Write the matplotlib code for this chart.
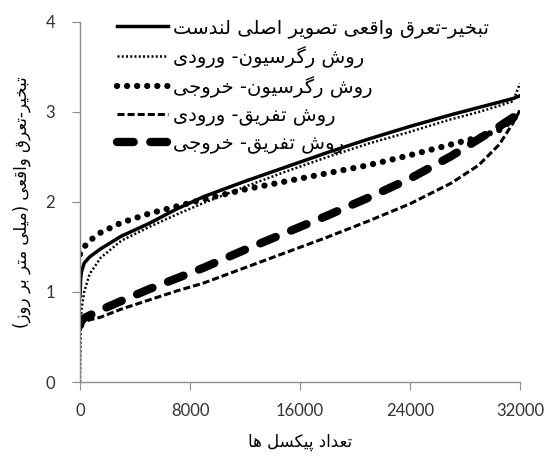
import numpy as np
import matplotlib
matplotlib.use('Agg')
import matplotlib.pyplot as plt

# pixel count (sorted) and ET values (mm/day) for each series
pixels = [0, 50, 100, 300, 700, 1500, 3000, 5000, 7000, 9000, 12000, 15000,
          18000, 21000, 24000, 27000, 29000, 30500, 31500, 32000]
et_landsat = [0.95, 1.15, 1.22, 1.32, 1.39, 1.48, 1.62, 1.76, 1.92, 2.06, 2.23, 2.39,
              2.55, 2.70, 2.84, 2.97, 3.05, 3.11, 3.15, 3.18]
reg_input = [0.0, 0.6, 0.8, 1.0, 1.2, 1.38, 1.57, 1.72, 1.86, 1.99, 2.17, 2.34,
             2.5, 2.65, 2.78, 2.92, 3.0, 3.07, 3.12, 3.32]
reg_output = [1.42, 1.44, 1.45, 1.5, 1.57, 1.66, 1.77, 1.87, 1.95, 2.03, 2.14, 2.23,
              2.32, 2.41, 2.52, 2.64, 2.72, 2.8, 2.92, 3.0]
sub_input = [0.62, 0.64, 0.65, 0.67, 0.69, 0.72, 0.81, 0.91, 1.01, 1.10, 1.27, 1.44,
             1.61, 1.79, 1.98, 2.21, 2.41, 2.64, 2.88, 3.02]
sub_output = [0.63, 0.66, 0.68, 0.71, 0.74, 0.8, 0.9, 1.03, 1.15, 1.27, 1.47, 1.66,
              1.85, 2.05, 2.26, 2.51, 2.7, 2.84, 2.94, 3.0]

labels = ['تبخیر-تعرق واقعی تصویر اصلی لندست',
          'روش رگرسیون- ورودی',
          'روش رگرسیون- خروجی',
          'روش تفریق- ورودی',
          'روش تفریق- خروجی']
xlabel = 'تعداد پیکسل ها'
ylabel = 'تبخیر-تعرق واقعی (میلی متر بر روز)'
xticks = [0, 8000, 16000, 24000, 32000]
yticks = [0, 1, 2, 3, 4]

# matplotlib has no arabic shaping, so pick presentation forms by hand
# (isolated, final, initial, medial)
FORMS = {
    'ا': ('\uFE8D', '\uFE8E', None, None),
    'ب': ('\uFE8F', '\uFE90', '\uFE91', '\uFE92'),
    'ت': ('\uFE95', '\uFE96', '\uFE97', '\uFE98'),
    'ج': ('\uFE9D', '\uFE9E', '\uFE9F', '\uFEA0'),
    'خ': ('\uFEA5', '\uFEA6', '\uFEA7', '\uFEA8'),
    'د': ('\uFEA9', '\uFEAA', None, None),
    'ر': ('\uFEAD', '\uFEAE', None, None),
    'ز': ('\uFEAF', '\uFEB0', None, None),
    'س': ('\uFEB1', '\uFEB2', '\uFEB3', '\uFEB4'),
    'ش': ('\uFEB5', '\uFEB6', '\uFEB7', '\uFEB8'),
    'ص': ('\uFEB9', '\uFEBA', '\uFEBB', '\uFEBC'),
    'ع': ('\uFEC9', '\uFECA', '\uFECB', '\uFECC'),
    'ف': ('\uFED1', '\uFED2', '\uFED3', '\uFED4'),
    'ق': ('\uFED5', '\uFED6', '\uFED7', '\uFED8'),
    'ل': ('\uFEDD', '\uFEDE', '\uFEDF', '\uFEE0'),
    'م': ('\uFEE1', '\uFEE2', '\uFEE3', '\uFEE4'),
    'ن': ('\uFEE5', '\uFEE6', '\uFEE7', '\uFEE8'),
    'ه': ('\uFEE9', '\uFEEA', '\uFEEB', '\uFEEC'),
    'و': ('\uFEED', '\uFEEE', None, None),
    'پ': ('\uFB56', '\uFB57', '\uFB58', '\uFB59'),
    'ک': ('\uFB8E', '\uFB8F', '\uFB90', '\uFB91'),
    'گ': ('\uFB92', '\uFB93', '\uFB94', '\uFB95'),
    'ی': ('\uFBFC', '\uFBFD', '\uFBFE', '\uFBFF'),
}


def shape(s):
    out = []
    for i, ch in enumerate(s):
        if ch not in FORMS:
            out.append(ch)
            continue
        iso, fin, ini, med = FORMS[ch]
        prev = s[i - 1] if i > 0 else ''
        nxt = s[i + 1] if i < len(s) - 1 else ''
        jp = prev in FORMS and FORMS[prev][2] is not None
        jn = ini is not None and nxt in FORMS
        if jp and jn:
            out.append(med)
        elif jp:
            out.append(fin)
        elif jn:
            out.append(ini)
        else:
            out.append(iso)
    vis = ''.join(out)[::-1]
    return vis.translate(str.maketrans('()', ')('))


fig = plt.figure(figsize=(5.45, 4.61), dpi=100)
ax = fig.add_axes([80 / 545, 79 / 461, 440 / 545, 360 / 461])

ax.plot(pixels, et_landsat, color='black', lw=2.5, label=shape(labels[0]))
ax.plot(pixels, reg_input, color='black', lw=1.8, dashes=(0.8, 0.9),
        label=shape(labels[1]))
ax.plot(pixels, reg_output, color='black', lw=4.5, dashes=(0.01, 1.6),
        dash_capstyle='round', label=shape(labels[2]))
ax.plot(pixels, sub_input, color='black', lw=2.2, dashes=(2.3, 1.0),
        label=shape(labels[3]))
ax.plot(pixels, sub_output, color='black', lw=6, dashes=(2.0, 2.0),
        dash_capstyle='round', label=shape(labels[4]))

ax.set_xlim(0, 32000)
ax.set_ylim(0, 4)
ax.set_xticks(xticks)
ax.set_yticks(yticks)
for s in ['top', 'right']:
    ax.spines[s].set_visible(False)
for s in ['left', 'bottom']:
    ax.spines[s].set_color('#8c8c8c')
    ax.spines[s].set_linewidth(1.0)
ax.tick_params(axis='x', length=6, color='#8c8c8c', pad=9)
ax.tick_params(axis='y', length=6, color='#8c8c8c', pad=12)
for t in ax.get_xticklabels() + ax.get_yticklabels():
    t.set_fontfamily('Lato')
    t.set_fontsize(12)
    t.set_color('#333333')

ax.set_xlabel(shape(xlabel), fontsize=12, family='DejaVu Sans', labelpad=10)
ax.set_ylabel(shape(ylabel), fontsize=12, family='DejaVu Sans', labelpad=10)

fig.legend(loc='upper left', bbox_to_anchor=(117 / 545, 1 - 18 / 461),
           frameon=False, borderpad=0, borderaxespad=0, handlelength=2.6,
           handletextpad=0.3, labelspacing=0.42,
           prop={'family': 'DejaVu Sans', 'size': 14})

fig.savefig('out.png', dpi=100)
